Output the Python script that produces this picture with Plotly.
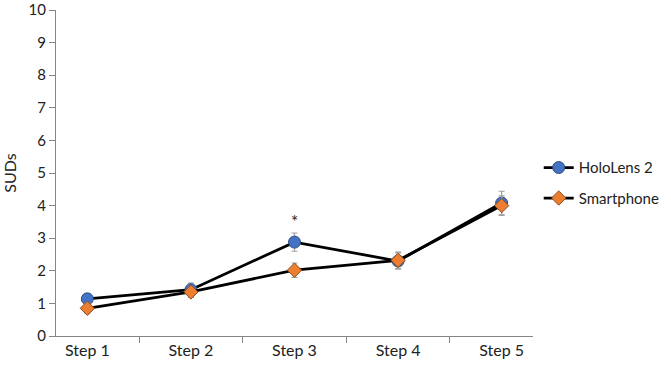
import plotly.graph_objects as go

steps = ["Step 1", "Step 2", "Step 3", "Step 4", "Step 5"]
holo = [1.14, 1.42, 2.88, 2.30, 4.08]
holo_err = [0.16, 0.20, 0.28, 0.25, 0.36]
phone = [0.85, 1.35, 2.02, 2.32, 4.00]
phone_err = [0.15, 0.16, 0.22, 0.25, 0.30]
y_ticks = [0, 1, 2, 3, 4, 5, 6, 7, 8, 9, 10]
sig_label = "*"
sig_step = "Step 3"
sig_y = 3.5

font = "Lato"
fig = go.Figure()
fig.add_trace(go.Scatter(
    x=steps, y=holo, name="HoloLens 2", mode="lines+markers", legendgroup="a",
    line=dict(color="black", width=2.8),
    marker=dict(symbol="circle", size=12, color="#4472C4", line=dict(color="#2F4F7F", width=1)),
    error_y=dict(type="data", array=holo_err, color="#A0A0A0", thickness=1.2, width=3),
))
fig.add_trace(go.Scatter(
    x=steps, y=phone, name="Smartphone", mode="lines+markers", legendgroup="b",
    line=dict(color="black", width=2.8),
    marker=dict(symbol="diamond", size=11, color="#ED7D31", line=dict(color="#8A4A1E", width=1)),
    error_y=dict(type="data", array=phone_err, color="#A0A0A0", thickness=1.2, width=3),
))
fig.add_annotation(x=sig_step, y=sig_y, text=sig_label, showarrow=False,
                   font=dict(size=17, color="#222222", family=font))

fig.update_layout(
    width=671, height=370,
    margin=dict(l=56, r=138, t=10, b=34, autoexpand=False),
    paper_bgcolor="white", plot_bgcolor="white",
    font=dict(family=font, size=16, color="#222"),
    showlegend=True,
    legend=dict(x=1.012, y=0.47, xanchor="left", yanchor="middle",
                font=dict(size=15, family=font), itemwidth=30, tracegroupgap=8,
                bgcolor="rgba(0,0,0,0)"),
    xaxis=dict(showline=True, linecolor="#868686", linewidth=1.2, automargin=False,
               ticks="outside", tickson="boundaries", ticklen=6, tickcolor="#868686",
               showgrid=False, zeroline=False),
    yaxis=dict(range=[0, 10], tickmode="array", tickvals=y_ticks, ticklabeloverflow="allow",
               tickfont=dict(size=15),
               showline=True, linecolor="#868686", linewidth=1.2, automargin=False,
               ticks="outside", ticklen=6, tickcolor="#868686",
               showgrid=False, zeroline=False,
               title=dict(text="SUDs", standoff=10, font=dict(size=16))),
)
fig.write_html("out.html", config={"displayModeBar": False},
               post_script="document.body.style.margin='0';")
